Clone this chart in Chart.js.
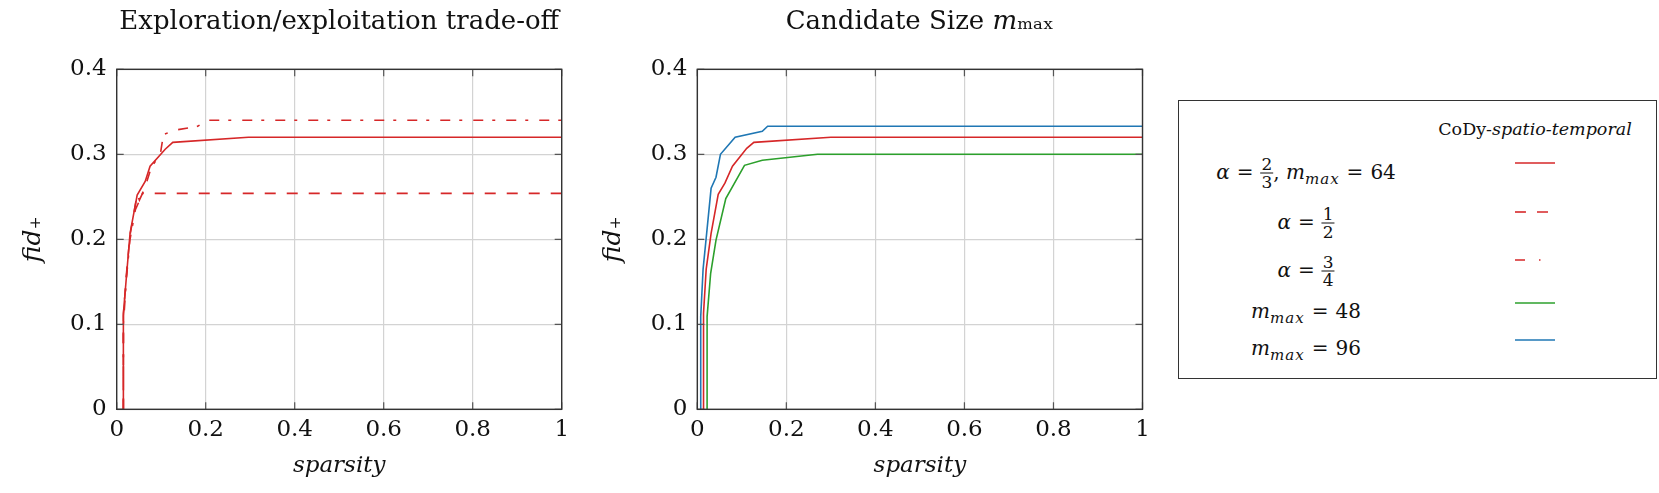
<!DOCTYPE html>
<html>
<head>
<meta charset="utf-8">
<script src="https://cdn.jsdelivr.net/npm/chart.js@4.4.0/dist/chart.umd.min.js"></script>
<style>
    body { margin: 0; background: #fff; }
    #wrap { position: relative; width: 1659px; height: 493px; overflow: hidden; }
    .cv { position: absolute; top: 0; }
    #legend { position: absolute; left: 1178px; top: 100px; width: 477px; height: 277px; border: 1.5px solid #333; font-family: 'DejaVu Serif', serif; color: #111; }
    #legend .hdr { position: absolute; left: 356px; top: 28px; transform: translate(-50%, -50%); font-size: 17.5px; white-space: nowrap; }
    #legend .lab { position: absolute; left: 127px; transform: translate(-50%, -50%); font-size: 20px; white-space: nowrap; }
    #legend svg { position: absolute; left: 336px; }
    .eq { margin: 0 7px; font-style: normal; }
    .frac { display: inline-flex; flex-direction: column; vertical-align: middle; font-size: 17px; line-height: 1.0; text-align: center; font-style: normal; }
    .frac span:first-child { border-bottom: 1.2px solid #111; padding: 0 1px; }
    sub { font-size: 15px; letter-spacing: 1px; }
</style>
</head>
<body>
<div id="wrap">
    <canvas id="c1" class="cv" style="left:0px" width="580" height="493"></canvas>
    <canvas id="c2" class="cv" style="left:580px" width="580" height="493"></canvas>
    <div id="legend">
        <div class="hdr">CoDy-<i>spatio-temporal</i></div>
        <div class="lab" style="top:72px"><i>α</i><span class="eq">=</span><span class="frac"><span>2</span><span>3</span></span>, <i>m</i><sub><i>max</i></sub><span class="eq">=</span>64</div>
        <div class="lab" style="top:122px"><i>α</i><span class="eq">=</span><span class="frac"><span>1</span><span>2</span></span></div>
        <div class="lab" style="top:170px"><i>α</i><span class="eq">=</span><span class="frac"><span>3</span><span>4</span></span></div>
        <div class="lab" style="top:212px"><i>m</i><sub><i>max</i></sub><span class="eq">=</span>48</div>
        <div class="lab" style="top:249px"><i>m</i><sub><i>max</i></sub><span class="eq">=</span>96</div>
        <svg style="top:60px" width="42" height="4"><line x1="0" y1="2" x2="40" y2="2" stroke="#d62728" stroke-width="1.6"/></svg>
        <svg style="top:109px" width="42" height="4"><line x1="0" y1="2" x2="40" y2="2" stroke="#d62728" stroke-width="1.6" stroke-dasharray="11 11"/></svg>
        <svg style="top:157px" width="42" height="4"><line x1="0" y1="2" x2="40" y2="2" stroke="#d62728" stroke-width="1.6" stroke-dasharray="10 14 1.5 20"/></svg>
        <svg style="top:200px" width="42" height="4"><line x1="0" y1="2" x2="40" y2="2" stroke="#2ca02c" stroke-width="1.6"/></svg>
        <svg style="top:237px" width="42" height="4"><line x1="0" y1="2" x2="40" y2="2" stroke="#1f77b4" stroke-width="1.6"/></svg>
    </div>
</div>
<script>
// Exploration/exploitation trade-off (left)
const alpha23X = [0.015, 0.015, 0.0225, 0.030, 0.046, 0.064, 0.075, 0.109, 0.126, 0.296, 1.0];
const alpha23Y = [0, 0.113, 0.160, 0.207, 0.252, 0.268, 0.286, 0.306, 0.314, 0.320, 0.320];
const alpha12X = [0.015, 0.015, 0.022, 0.030, 0.040, 0.046, 0.051, 0.058, 0.086, 1.0];
const alpha12Y = [0, 0.110, 0.160, 0.205, 0.235, 0.253, 0.246, 0.254, 0.254, 0.254];
const alpha34X = [0.015, 0.015, 0.022, 0.030, 0.042, 0.055, 0.066, 0.078, 0.098, 0.105, 0.127, 0.182, 0.205, 1.0];
const alpha34Y = [0, 0.100, 0.155, 0.200, 0.235, 0.250, 0.265, 0.285, 0.300, 0.323, 0.328, 0.333, 0.340, 0.340];

// Candidate size m_max (right)
const m64X = [0.014, 0.014, 0.020, 0.031, 0.047, 0.062, 0.079, 0.111, 0.127, 0.300, 1.0];
const m64Y = [0, 0.113, 0.165, 0.207, 0.253, 0.266, 0.286, 0.307, 0.314, 0.320, 0.320];
const m48X = [0.022, 0.022, 0.030, 0.042, 0.064, 0.106, 0.146, 0.270, 1.0];
const m48Y = [0, 0.109, 0.160, 0.199, 0.248, 0.287, 0.293, 0.300, 0.300];
const m96X = [0.0077, 0.0077, 0.013, 0.021, 0.031, 0.042, 0.052, 0.085, 0.146, 0.158, 1.0];
const m96Y = [0, 0.109, 0.165, 0.207, 0.260, 0.273, 0.300, 0.320, 0.327, 0.333, 0.333];

const xTicks = [0, 0.2, 0.4, 0.6, 0.8, 1];
const yTicks = [0, 0.1, 0.2, 0.3, 0.4];

const RED = '#d62728', GREEN = '#2ca02c', BLUE = '#1f77b4';
const FONT = "'DejaVu Serif', serif";

function pts(xs, ys) {
    return xs.map((x, i) => ({ x: x, y: ys[i] }));
}

function fmt(v) {
    return String(Math.round(v * 10) / 10);
}

// pgfplots style box with inward ticks on all four sides
const framePlugin = {
    id: 'frame',
    afterDraw(chart) {
        const ctx = chart.ctx;
        const a = chart.chartArea;
        const sx = chart.scales.x, sy = chart.scales.y;
        const len = 7;
        ctx.save();
        ctx.strokeStyle = '#555';
        ctx.lineWidth = 1.2;
        ctx.beginPath();
        xTicks.forEach(t => {
            const px = sx.getPixelForValue(t);
            ctx.moveTo(px, a.bottom); ctx.lineTo(px, a.bottom - len);
            ctx.moveTo(px, a.top); ctx.lineTo(px, a.top + len);
        });
        yTicks.forEach(t => {
            const py = sy.getPixelForValue(t);
            ctx.moveTo(a.left, py); ctx.lineTo(a.left + len, py);
            ctx.moveTo(a.right, py); ctx.lineTo(a.right - len, py);
        });
        ctx.stroke();
        ctx.lineWidth = 1.4;
        ctx.strokeStyle = '#333';
        ctx.strokeRect(a.left, a.top, a.right - a.left, a.bottom - a.top);
        ctx.restore();
    }
};

function makeChart(id, title, datasets, padRight, yWidth) {
    return new Chart(document.getElementById(id), {
        type: 'line',
        data: { datasets: datasets },
        options: {
            responsive: false,
            animation: false,
            layout: { padding: { left: 0, right: padRight, top: 0, bottom: 3.7 } },
            plugins: {
                legend: { display: false },
                tooltip: { enabled: false },
                title: {
                    display: true,
                    text: title,
                    fullSize: false,
                    color: '#111',
                    font: { family: FONT, size: 26, weight: 'normal', lineHeight: 1.2 },
                    padding: { top: 7, bottom: 31.1 }
                }
            },
            elements: { point: { radius: 0 }, line: { tension: 0, borderWidth: 1.6 } },
            scales: {
                x: {
                    type: 'linear', min: 0, max: 1,
                    afterBuildTicks: s => { s.ticks = xTicks.map(v => ({ value: v })); },
                    afterFit: s => { s.height = 80; },
                    grid: { color: '#d3d3d3', lineWidth: 1.2, drawTicks: false },
                    border: { display: false },
                    ticks: { callback: fmt, color: '#111', padding: 7, maxRotation: 0, font: { family: FONT, size: 23 } },
                    title: { display: true, text: 'sparsity', color: '#111', padding: { top: 0, bottom: 9 }, font: { family: FONT, size: 23, style: 'italic' } }
                },
                y: {
                    type: 'linear', min: 0, max: 0.4,
                    afterBuildTicks: s => { s.ticks = yTicks.map(v => ({ value: v })); },
                    afterFit: s => { s.width = yWidth; },
                    grid: { color: '#d3d3d3', lineWidth: 1.2, drawTicks: false },
                    border: { display: false },
                    ticks: { callback: fmt, color: '#111', padding: 10, font: { family: FONT, size: 23 } },
                    title: { display: true, text: 'fid₊', color: '#111', padding: { top: 18, bottom: 0 }, font: { family: FONT, size: 25, style: 'italic' } }
                }
            }
        },
        plugins: [framePlugin]
    });
}

function line(xs, ys, color, dash) {
    return { data: pts(xs, ys), borderColor: color, borderDash: dash || [], fill: false };
}

makeChart('c1', 'Exploration/exploitation trade-off', [
    line(alpha12X, alpha12Y, RED, [11, 11]),
    line(alpha34X, alpha34Y, RED, [10, 9, 3, 11]),
    line(alpha23X, alpha23Y, RED)
], 18.3, 116.7);

makeChart('c2', 'Candidate Size 𝑚ₘₐₓ', [
    line(m48X, m48Y, GREEN),
    line(m64X, m64Y, RED),
    line(m96X, m96Y, BLUE)
], 17.5, 117.3);
</script>
</body>
</html>
